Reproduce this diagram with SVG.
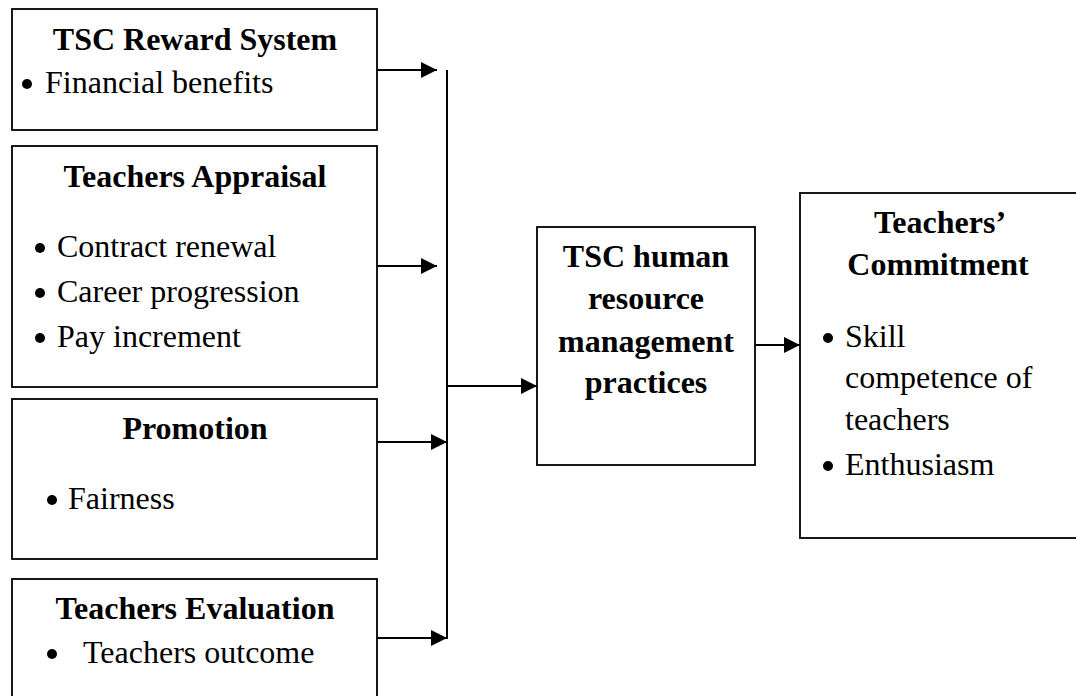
<svg xmlns="http://www.w3.org/2000/svg" width="1076" height="696" viewBox="0 0 1076 696">
<defs>
<style>
.box{fill:#fff;stroke:#000;stroke-width:1.8}
.t{font-family:"Liberation Serif","Times New Roman",serif;font-size:32px;fill:#000}
.b{font-weight:bold;text-anchor:middle}
.dot{fill:#000}
.c{stroke:#000;stroke-width:2;fill:none}
</style>
<marker id="ah" markerUnits="userSpaceOnUse" markerWidth="16" markerHeight="16" viewBox="0 0 16 16" refX="16" refY="8" orient="auto">
<path d="M0,0 L16,8 L0,16 Z" fill="#000"/>
</marker>
</defs>
<rect width="1076" height="696" fill="#fff"/>
<g id="reward">
<rect class="box" x="12" y="9" width="365" height="121"/>
<text class="t b" x="195" y="50">TSC Reward System</text>
<circle class="dot" cx="27" cy="84" r="5"/>
<text class="t" x="45" y="93">Financial benefits</text>
</g>
<g id="appraisal">
<rect class="box" x="12" y="146" width="365" height="241"/>
<text class="t b" x="195" y="187">Teachers Appraisal</text>
<circle class="dot" cx="40" cy="248" r="5"/>
<text class="t" x="57" y="257">Contract renewal</text>
<circle class="dot" cx="40" cy="293" r="5"/>
<text class="t" x="57" y="302">Career progression</text>
<circle class="dot" cx="40" cy="338" r="5"/>
<text class="t" x="57" y="347">Pay increment</text>
</g>
<g id="promotion">
<rect class="box" x="12" y="399" width="365" height="160"/>
<text class="t b" x="195" y="439">Promotion</text>
<circle class="dot" cx="52" cy="500" r="5"/>
<text class="t" x="68" y="509">Fairness</text>
</g>
<g id="evaluation">
<rect class="box" x="12" y="579" width="365" height="130"/>
<text class="t b" x="195" y="619">Teachers Evaluation</text>
<circle class="dot" cx="52" cy="654" r="5"/>
<text class="t" x="83" y="663">Teachers outcome</text>
</g>
<g id="hrm">
<rect class="box" x="537" y="227" width="218" height="238"/>
<text class="t b" x="646" y="267">TSC human</text>
<text class="t b" x="646" y="309">resource</text>
<text class="t b" x="646" y="352">management</text>
<text class="t b" x="646" y="393">practices</text>
</g>
<g id="commitment">
<rect class="box" x="800" y="193" width="290" height="345"/>
<text class="t b" x="940" y="233">Teachers’</text>
<text class="t b" x="938" y="275">Commitment</text>
<circle class="dot" cx="828" cy="338" r="5"/>
<text class="t" x="845" y="347">Skill</text>
<text class="t" x="845" y="388">competence of</text>
<text class="t" x="845" y="430">teachers</text>
<circle class="dot" cx="828" cy="466" r="5"/>
<text class="t" x="845" y="475">Enthusiasm</text>
</g>
<g id="connectors">
<line class="c" x1="447" y1="70" x2="447" y2="639"/>
<line class="c" x1="377" y1="70" x2="437" y2="70" marker-end="url(#ah)"/>
<line class="c" x1="377" y1="266" x2="437" y2="266" marker-end="url(#ah)"/>
<line class="c" x1="377" y1="442" x2="447" y2="442" marker-end="url(#ah)"/>
<line class="c" x1="377" y1="638" x2="447" y2="638" marker-end="url(#ah)"/>
<line class="c" x1="447" y1="386" x2="537" y2="386" marker-end="url(#ah)"/>
<line class="c" x1="755" y1="345" x2="800" y2="345" marker-end="url(#ah)"/>
</g>
</svg>
